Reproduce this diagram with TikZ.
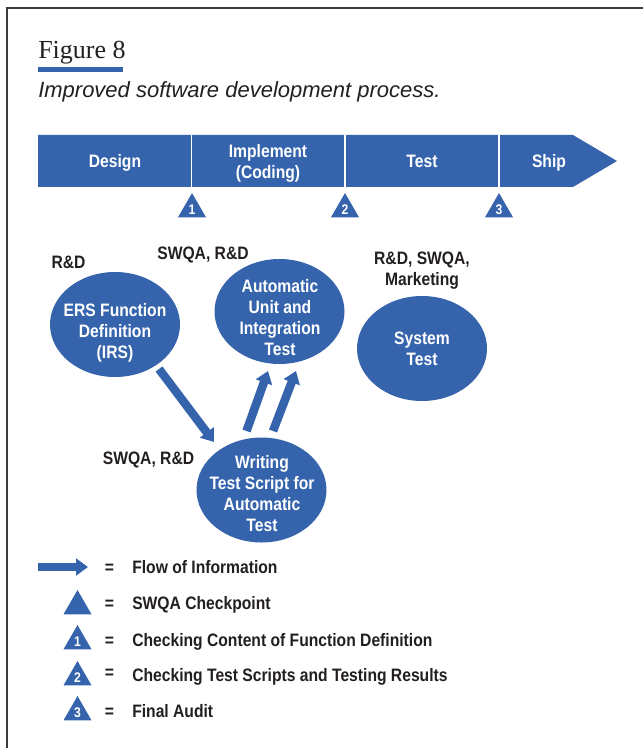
\documentclass[tikz,border=0pt]{standalone}
\usepackage{fontspec}
\setmainfont{Liberation Sans}
\newfontfamily\labelfont[FakeStretch=0.87]{Liberation Sans}
\newfontfamily\titlefont{Liberation Serif}
\usetikzlibrary{arrows.meta,shapes.geometric}
\definecolor{hpblue}{RGB}{53,100,173}
\definecolor{ink}{RGB}{35,31,32}
\definecolor{rule}{RGB}{60,60,60}

\tikzset{
  lbl/.style={font=\labelfont\bfseries\fontsize{13.5pt}{15.75pt}\selectfont,
    text=ink, inner sep=0pt, align=center},
  inlbl/.style={lbl, text=white},
  blob/.style={ellipse, fill=hpblue, minimum width=97.5pt,
    minimum height=78.75pt, inner sep=0pt},
  chk/.style={regular polygon, regular polygon sides=3, fill=hpblue,
    minimum size=24.25pt, inner sep=0pt},
  chknum/.style={text=white, inner sep=0pt, anchor=base,
    font=\labelfont\bfseries\fontsize{10.5pt}{11pt}\selectfont},
  flow/.style={draw=hpblue, line width=6.4pt,
    -{Triangle[width=12.5pt,length=9pt]}}
}

\begin{document}
\begin{tikzpicture}[x=0.75pt,y=-0.75pt]
\useasboundingbox (0,0) rectangle (643,748);

% frame
\draw[rule, line width=1.2pt] (7,748) -- (7,8) -- (643,8);

% heading
\node[font=\titlefont\fontsize{19.5pt}{20pt}\selectfont, text=ink,
      anchor=base west, inner sep=0pt] (fig) at (38,59) {Figure 8};
\fill[hpblue] (38,67) rectangle (123,72);
\node[font=\itshape\fontsize{16.5pt}{18pt}\selectfont, text=ink,
      anchor=base west, inner sep=0pt] (sub) at (38,98)
      {Improved software development process.};

% phase bar
\fill[hpblue] (38,135) -- (573,135) -- (617,161) -- (573,187) -- (38,187) -- cycle;
\foreach \x in {191.5,345,499}
  \draw[white, line width=1.4pt] (\x,135) -- (\x,187);
\node[inlbl, anchor=base] (pdes) at (115,167.5) {Design};
\node[inlbl, anchor=base] (pimp) at (268,157.5) {Implement};
\node[inlbl, anchor=base] (pcod) at (268,178.5) {(Coding)};
\node[inlbl, anchor=base] (ptst) at (422,167.5) {Test};
\node[inlbl, anchor=base] (pshp) at (549,167.5) {Ship};

% checkpoints
\node[chk] (c1) at (192,209.2) {};
\node[chk] (c2) at (345,209.2) {};
\node[chk] (c3) at (499,209.2) {};
\node[chknum] at ([yshift=-4.2pt]c1.center) {1};
\node[chknum] at ([yshift=-4.2pt]c2.center) {2};
\node[chknum] at ([yshift=-4.2pt]c3.center) {3};

% activities
\node[blob] (ers) at (115,324.5) {};
\node[blob] (aut) at (279.5,311.5) {};
\node[blob] (sys) at (422,348.5) {};
\node[blob] (wts) at (261.5,490) {};
\node[inlbl] (erst) at (115,333) {ERS Function\\Definition\\(IRS)};
\node[inlbl] (autt) at (280,318) {Automatic\\Unit and\\Integration\\Test};
\node[inlbl] (syst) at (422,348.5) {System\\Test};
\node[inlbl] (wtst) at (262,494) {Writing\\Test Script for\\Automatic\\Test};

% responsible groups
\node[lbl] (rdA) at (68.5,262) {R\&D};
\node[lbl] (swA) at (203,255) {SWQA, R\&D};
\node[lbl] (rsm) at (422,270.5) {R\&D, SWQA,\\Marketing};
\node[lbl] (swB) at (148.5,460) {SWQA, R\&D};

% information flow
\coordinate (f1s) at (159,369);
\coordinate (f1e) at (214,442);
\coordinate (u1s) at (246.5,431);
\coordinate (u1e) at (268,371);
\coordinate (u2s) at (273,431);
\coordinate (u2e) at (296,371);
\draw[flow] (f1s) -- (f1e);
\draw[flow] (u1s) -- (u1e);
\draw[flow] (u2s) -- (u2e);

% legend
\coordinate (la) at (38,567);
\coordinate (lb) at (88,567);
\draw[flow] (la) -- (lb);
\node[chk] (k0) at (77.5,606.2) {};
\node[chk] (k1) at (77.5,641.2) {};
\node[chk] (k2) at (77.5,677.2) {};
\node[chk] (k3) at (77.5,712.2) {};
\node[chknum] at ([yshift=-4.2pt]k1.center) {1};
\node[chknum] at ([yshift=-4.2pt]k2.center) {2};
\node[chknum] at ([yshift=-4.2pt]k3.center) {3};
\foreach \y/\n in {573.5/e0,609.5/e1,646.5/e2,678.5/e3,717.5/e4}
  \node[lbl, anchor=base] (\n) at (109.5,\y) {=};
\node[lbl, anchor=base west] (t0) at (132,573.5) {Flow of Information};
\node[lbl, anchor=base west] (t1) at (132,609.5) {SWQA Checkpoint};
\node[lbl, anchor=base west] (t2) at (132,646.5) {Checking Content of Function Definition};
\node[lbl, anchor=base west] (t3) at (132,681.5) {Checking Test Scripts and Testing Results};
\node[lbl, anchor=base west] (t4) at (132,717.5) {Final Audit};
\end{tikzpicture}
\end{document}
